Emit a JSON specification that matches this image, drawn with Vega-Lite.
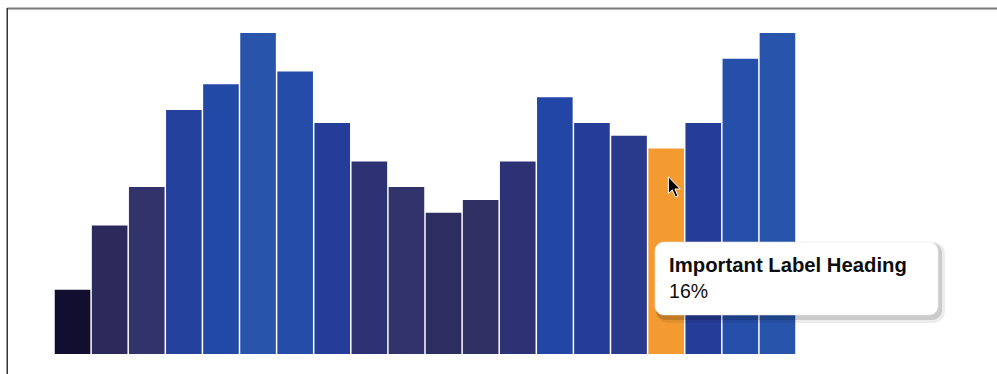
{
  "$schema": "https://vega.github.io/schema/vega-lite/v6.json",
  "autosize": {"type": "none"},
  "padding": {"left": 54, "top": 33, "right": 201, "bottom": 20},
  "width": 742,
  "height": 321,
  "background": "#ffffff",
  "config": {"view": {"stroke": null}, "scale": {"continuousPadding": 0}},
  "datasets": {
    "bars": [
      {"bar": 1, "value": 5, "highlight": false},
      {"bar": 2, "value": 10, "highlight": false},
      {"bar": 3, "value": 13, "highlight": false},
      {"bar": 4, "value": 19, "highlight": false},
      {"bar": 5, "value": 21, "highlight": false},
      {"bar": 6, "value": 25, "highlight": false},
      {"bar": 7, "value": 22, "highlight": false},
      {"bar": 8, "value": 18, "highlight": false},
      {"bar": 9, "value": 15, "highlight": false},
      {"bar": 10, "value": 13, "highlight": false},
      {"bar": 11, "value": 11, "highlight": false},
      {"bar": 12, "value": 12, "highlight": false},
      {"bar": 13, "value": 15, "highlight": false},
      {"bar": 14, "value": 20, "highlight": false},
      {"bar": 15, "value": 18, "highlight": false},
      {"bar": 16, "value": 17, "highlight": false},
      {"bar": 17, "value": 16, "highlight": true},
      {"bar": 18, "value": 18, "highlight": false},
      {"bar": 19, "value": 23, "highlight": false},
      {"bar": 20, "value": 25, "highlight": false}
    ],
    "frameTop": [{"x": -0.76, "x2": 27, "y": 26.9}],
    "frameLeft": [{"x": -0.76, "y": 26.95, "y2": -3}],
    "tip": [{"x": 16.7, "x2": 24.33, "y": 8.72, "y2": 3.04}],
    "tipHeading": [{"x": 17.08, "y": 6.39, "text": "Important Label Heading"}],
    "tipValue": [{"x": 17.08, "y": 4.36, "text": "16%"}],
    "cursor": [{"x": 17.06, "y": 13.81}]
  },
  "layer": [
    {
      "data": {"name": "frameTop"},
      "mark": {"type": "rule", "color": "#7a7a7a", "strokeWidth": 2},
      "encoding": {
        "x": {"field": "x", "type": "quantitative", "scale": {"domain": [0.5, 20.5], "nice": false, "zero": false, "padding": 0}, "axis": null},
        "x2": {"field": "x2"},
        "y": {"field": "y", "type": "quantitative", "scale": {"domain": [0, 25], "nice": false, "zero": false}, "axis": null}
      }
    },
    {
      "data": {"name": "frameLeft"},
      "mark": {"type": "rule", "color": "#333333", "strokeWidth": 1.5},
      "encoding": {
        "x": {"field": "x", "type": "quantitative"},
        "y": {"field": "y", "type": "quantitative"},
        "y2": {"field": "y2"}
      }
    },
    {
      "data": {"name": "bars"},
      "mark": {"type": "bar", "width": 35.6},
      "encoding": {
        "x": {"field": "bar", "type": "quantitative"},
        "y": {"field": "value", "type": "quantitative"},
        "color": {
          "condition": {"test": "datum.highlight", "value": "#f39b30"},
          "field": "value",
          "type": "quantitative",
          "scale": {
            "domain": [5, 10, 13, 15, 18, 20, 25],
            "range": ["#120e2f", "#2c2a5a", "#32336a", "#2c3274", "#253d98", "#2246a5", "#2855ab"]
          },
          "legend": null
        }
      }
    },
    {
      "data": {"name": "cursor"},
      "mark": {
        "type": "point",
        "filled": true,
        "size": 420,
        "shape": "M0,0 L0,1.65 L0.38,1.28 L0.68,1.98 L0.93,1.87 L0.64,1.2 L1.15,1.2 Z",
        "color": "#000000",
        "stroke": "#ffffff",
        "strokeWidth": 1,
        "opacity": 1
      },
      "encoding": {
        "x": {"field": "x", "type": "quantitative"},
        "y": {"field": "y", "type": "quantitative"}
      }
    },
    {
      "data": {"name": "tip"},
      "mark": {"type": "rect", "color": "#000000", "opacity": 0.07, "cornerRadius": 12, "xOffset": 1, "x2Offset": 7, "yOffset": 0, "y2Offset": 8},
      "encoding": {
        "x": {"field": "x", "type": "quantitative"},
        "x2": {"field": "x2"},
        "y": {"field": "y", "type": "quantitative"},
        "y2": {"field": "y2"}
      }
    },
    {
      "data": {"name": "tip"},
      "mark": {"type": "rect", "color": "#000000", "opacity": 0.14, "cornerRadius": 10, "xOffset": 1, "x2Offset": 4, "yOffset": 1, "y2Offset": 5},
      "encoding": {
        "x": {"field": "x", "type": "quantitative"},
        "x2": {"field": "x2"},
        "y": {"field": "y", "type": "quantitative"},
        "y2": {"field": "y2"}
      }
    },
    {
      "data": {"name": "tip"},
      "mark": {"type": "rect", "color": "#ffffff", "cornerRadius": 9, "stroke": "#e8e8e8", "strokeWidth": 0.6},
      "encoding": {
        "x": {"field": "x", "type": "quantitative"},
        "x2": {"field": "x2"},
        "y": {"field": "y", "type": "quantitative"},
        "y2": {"field": "y2"}
      }
    },
    {
      "data": {"name": "tipHeading"},
      "mark": {"type": "text", "align": "left", "baseline": "alphabetic", "font": "Liberation Sans", "fontWeight": "bold", "fontSize": 20.3, "color": "#0d0d0d"},
      "encoding": {
        "x": {"field": "x", "type": "quantitative"},
        "y": {"field": "y", "type": "quantitative"},
        "text": {"field": "text"}
      }
    },
    {
      "data": {"name": "tipValue"},
      "mark": {"type": "text", "align": "left", "baseline": "alphabetic", "font": "Liberation Sans", "fontSize": 19.5, "color": "#0d0d0d"},
      "encoding": {
        "x": {"field": "x", "type": "quantitative"},
        "y": {"field": "y", "type": "quantitative"},
        "text": {"field": "text"}
      }
    }
  ]
}
